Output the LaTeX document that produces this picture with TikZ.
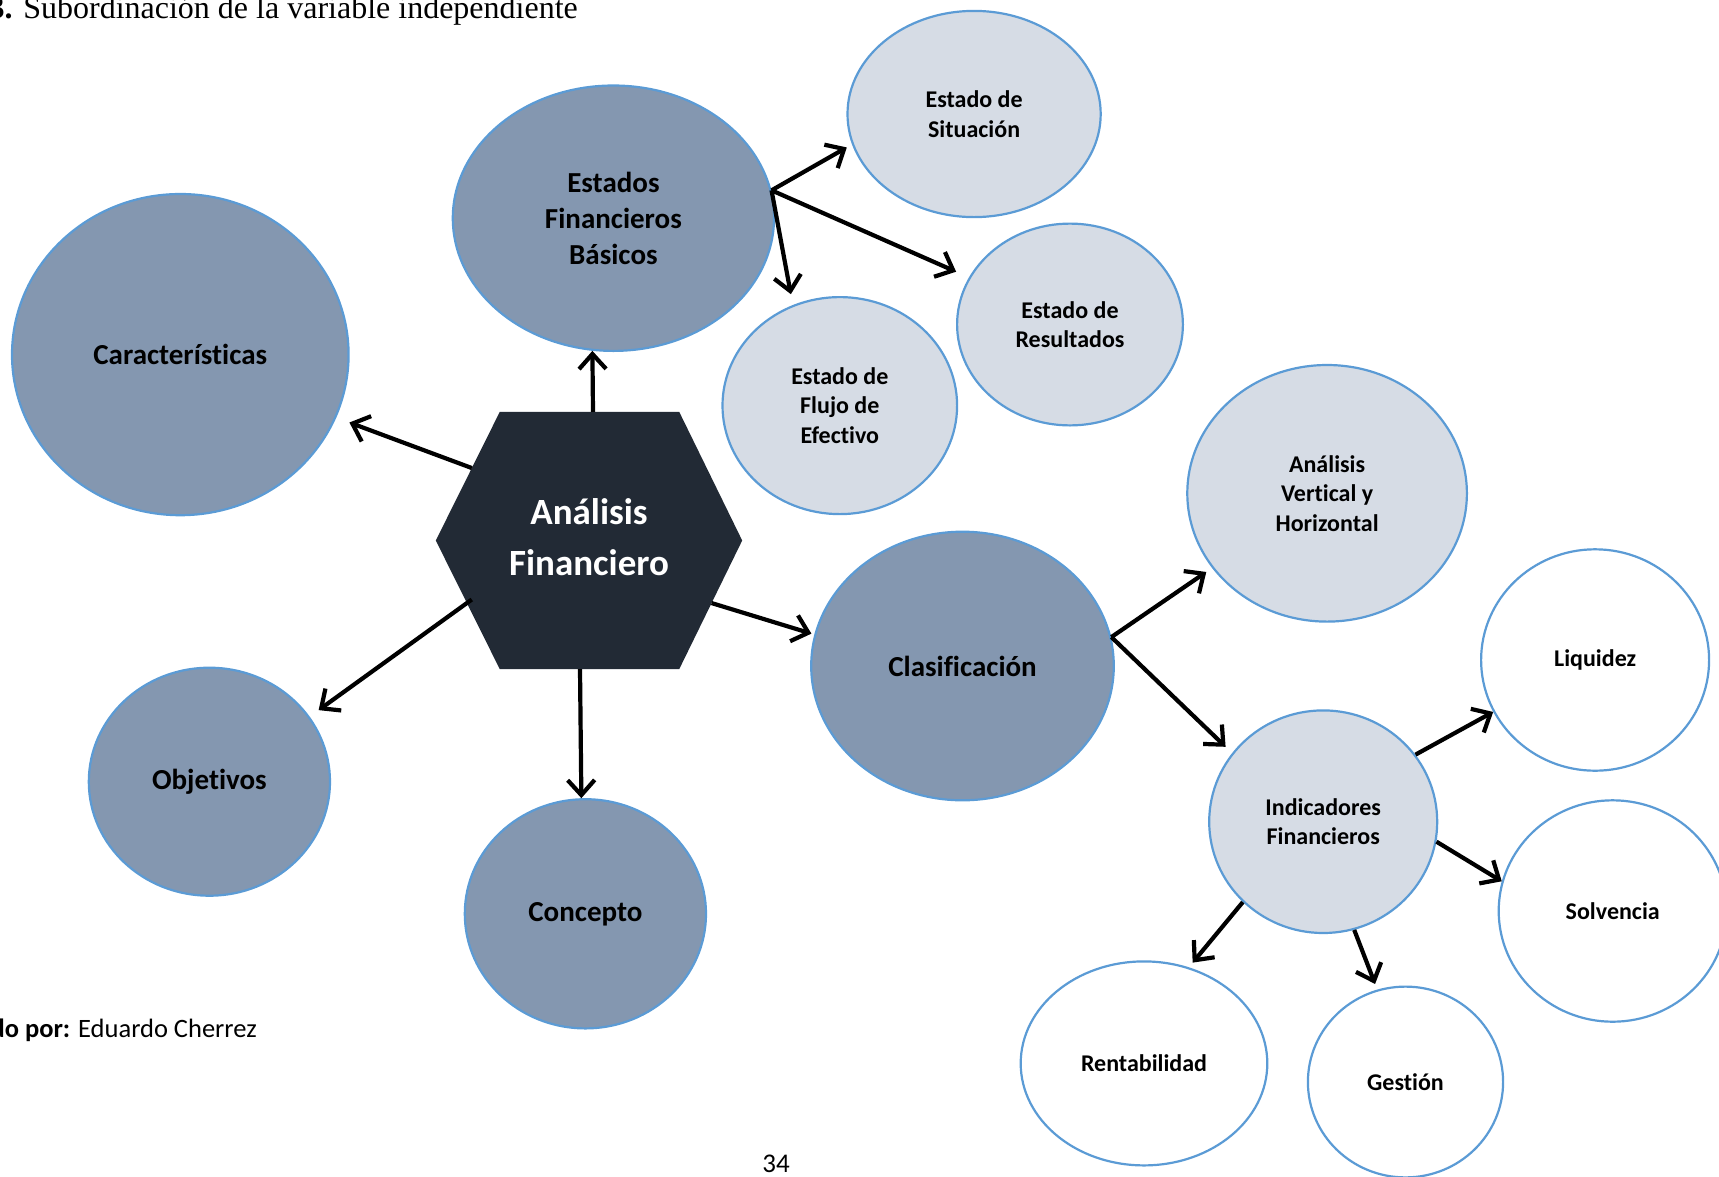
\documentclass[tikz,border=0pt]{standalone}
\usepackage{fontspec}
\setmainfont{Carlito}[Ligatures=NoCommon]
\newfontfamily\serifhead{Liberation Serif}
\usetikzlibrary{shapes.geometric,arrows.meta,calc}

\definecolor{midfill}{HTML}{8497B0}
\definecolor{lightfill}{HTML}{D6DCE5}
\definecolor{rim}{HTML}{5B9BD5}
\definecolor{hexfill}{HTML}{222A35}

\begin{document}
\begin{tikzpicture}[x=1pt,y=-1pt,
  bubble/.style={ellipse, draw=rim, line width=2.2pt, inner sep=0pt, align=center,
    font=\bfseries\fontsize{24}{29.6}\selectfont},
  mainbubble/.style={bubble, fill=midfill, font=\bfseries\fontsize{29}{36}\selectfont},
  subbubble/.style={bubble, fill=lightfill},
  leafbubble/.style={bubble, fill=white},
  link/.style={line width=4.2pt, -{Straight Barb[length=15pt,width=27pt]}},
]
\useasboundingbox (0,0) rectangle (1719,1176);
\clip (0,0) rectangle (1719,1176);

% headings and footer text
\node[anchor=base east, inner sep=0pt, font=\serifhead\fontsize{32}{38}\selectfont] (title) at (578,18)
  {\textbf{3.} Subordinación de la variable independiente};
\node[anchor=base east, inner sep=0pt, font=\fontsize{26.5}{32}\selectfont] (author) at (257,1037)
  {\textbf{Elaborado por:} Eduardo Cherrez};
\node[anchor=base, inner sep=0pt, font=\fontsize{27}{32}\selectfont] (page) at (776,1172) {34};

% first level
\node[mainbubble, minimum width=336.6pt, minimum height=321.2pt] (car) at (180.3,354.6) {Características};
\node[mainbubble, minimum width=321.2pt, minimum height=265.4pt] (est) at (613.4,218.2) {Estados\\Financieros\\Básicos};
\node[mainbubble, minimum width=302.6pt, minimum height=268.6pt] (cla) at (962.5,666) {Clasificación};
\node[mainbubble, minimum width=241.2pt, minimum height=228pt] (obj) at (209.4,781.7) {Objetivos};
\node[mainbubble, minimum width=241.2pt, minimum height=229.2pt] (con) at (585.4,913.8) {Concepto};

% second level
\node[subbubble, minimum width=253.2pt, minimum height=206.2pt] (sit) at (974.1,114) {Estado de\\Situación};
\node[subbubble, minimum width=225.8pt, minimum height=201.8pt] (res) at (1070,324.5) {Estado de\\Resultados};
\node[subbubble, minimum width=234.6pt, minimum height=217pt] (flu) at (839.8,405.6) {Estado de\\Flujo de\\Efectivo};
\node[subbubble, minimum width=279.6pt, minimum height=256.6pt] (avh) at (1327.1,493.3) {Análisis\\Vertical y\\Horizontal};
\node[subbubble, minimum width=228pt, minimum height=222.6pt] (ind) at (1323.2,821.7) {Indicadores\\Financieros};

% indicators
\node[leafbubble, minimum width=228pt, minimum height=221.4pt] (liq) at (1595.1,660) {Liquidez};
\node[leafbubble, minimum width=228pt, minimum height=221.4pt] (sol) at (1612.7,911) {Solvencia};
\node[leafbubble, minimum width=246.6pt, minimum height=204pt] (ren) at (1144,1063.4) {Rentabilidad};
\node[leafbubble, minimum width=195.2pt, minimum height=190.8pt] (ges) at (1405.5,1082) {Gestión};

% central hexagon
\node[minimum width=306pt, minimum height=257pt, inner sep=0pt] (hex) at (589,540.5) {};
\coordinate (h1) at (hex.west);
\coordinate (h2) at ($(hex.north west)+(64,0)$);
\coordinate (h3) at ($(hex.north east)+(-63,0)$);
\coordinate (h4) at (hex.east);
\coordinate (h5) at ($(hex.south east)+(-63,0)$);
\coordinate (h6) at ($(hex.south west)+(64,0)$);
\fill[hexfill] (h1) -- (h2) -- (h3) -- (h4) -- (h5) -- (h6) -- cycle;
\node[text=white, align=center, font=\bfseries\fontsize{37}{51}\selectfont] (hexlabel)
  at ($(hex.center)+(0,-3)$) {Análisis\\Financiero};

% connectors
\draw[link] ($(hex.north)+(4,0)$) -- (est.261.3);
\draw[link, shorten >=14pt] ($(h1)!0.563!(h2)$) -- (car.338.2);
\draw[link, shorten >=11pt, shorten <=-6pt] ($(h1)!0.486!(h6)$) -- (obj.33.3);
\draw[link] ($(hex.south)+(-9,0)$) -- (con.92.7);
\draw[link, shorten >=3pt] ($(h4)!0.486!(h5)$) -- (cla.168.7);

\draw[link, shorten >=6pt] (est.10) -- (sit.194.1);
\draw[link, shorten >=14pt] (est.10) -- (res.155.7);
\draw[link, shorten >=11pt] (est.10) -- (flu.115.7);

\draw[link, shorten >=7pt] (cla.11.4) -- (avh.213.6);
\draw[link, shorten >=9pt] (cla.11.4) -- (ind.143.9);

\draw[link] (ind.36.9) -- (liq.207.6);
\draw[link] (ind.-10) -- (sol.165);
\draw[link, shorten >=6pt] (ind.225.6) -- (ren.65.7);
\draw[link, shorten >=6pt] (ind.286.7) -- (ges.107.5);
\end{tikzpicture}
\end{document}
